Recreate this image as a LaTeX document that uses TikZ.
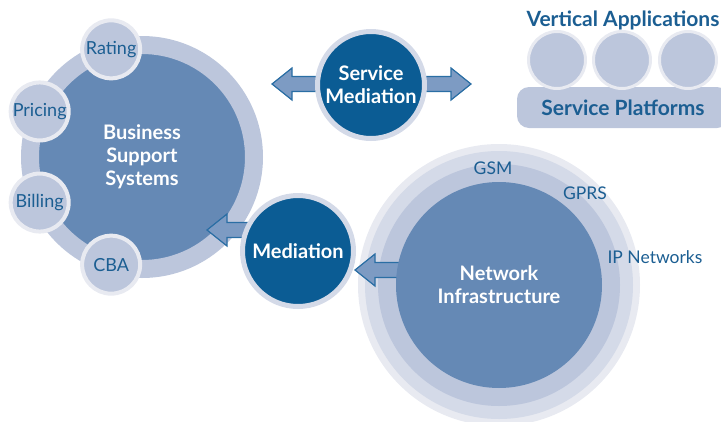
\documentclass[tikz,border=0pt]{standalone}
\usepackage{fontspec}
\setmainfont{Lato}
\usetikzlibrary{calc}

\definecolor{deepblue}{HTML}{0B5C94}
\definecolor{textblue}{HTML}{1B5E92}
\definecolor{midblue}{HTML}{6589B5}
\definecolor{paleblue}{HTML}{BCC6DC}
\definecolor{mistblue}{HTML}{D4DAE8}
\definecolor{frost}{HTML}{E8EAF1}
\definecolor{arrowfill}{HTML}{7D9BC3}
\definecolor{arrowline}{HTML}{2A6EA4}

\pgfdeclarelayer{back}
\pgfdeclarelayer{mid}
\pgfsetlayers{back,mid,main}

% fat horizontal arrow: start, tip, signed head length
\newcommand\fatarrow[3]{%
  \draw[blockarrow] let \p1=(#1), \p2=(#2) in
    (\x1,\y2+7.5) -- ({\x2+(#3)},\y2+7.5) -- ({\x2+(#3)},\y2+16)
    -- (\x2,\y2) -- ({\x2+(#3)},\y2-16) -- ({\x2+(#3)},\y2-7.5)
    -- (\x1,\y2-7.5) -- cycle;}

\begin{document}
\begin{tikzpicture}[x=1pt,y=-1pt,
    bigcircle/.style={circle, fill=midblue, draw=paleblue, line width=18pt,
      minimum size=224pt, inner sep=0pt, outer sep=0pt, text=white, align=center,
      font=\bfseries\fontsize{20}{23}\selectfont},
    hub/.style={circle, fill=deepblue, draw=mistblue, line width=5pt,
      minimum size=107pt, inner sep=0pt, text=white, align=center,
      font=\bfseries\fontsize{20}{23}\selectfont},
    satellite/.style={circle, fill=paleblue, draw=frost, line width=4pt,
      minimum size=58pt, inner sep=0pt, text=textblue,
      font=\fontsize{18}{20}\selectfont},
    ring/.style={circle, inner sep=0pt, outer sep=0pt},
    blockarrow/.style={fill=arrowfill, draw=arrowline, line width=1.2pt},
    tag/.style={text=textblue, font=\fontsize{17.5}{20}\selectfont},
    heading/.style={text=textblue, font=\bfseries\fontsize{21}{24}\selectfont}]
    \useasboundingbox (0,0) rectangle (721,421);

    % Business support side
    \begin{pgfonlayer}{back}
        \node (bss) [bigcircle] at (142,157) {Business\\Support\\Systems};
        \node (rating) [satellite] at (bss.106) {Rating};
        \node (pricing) [satellite] at (bss.156) {Pricing};
        \node (billing) [satellite] at (bss.204) {Billing};
        \node (cba) [satellite] at (bss.254) {CBA};

        % Network rings
        \node (netouter) [ring, fill=frost, minimum size=282pt] at (499,285) {};
        \node (netmid) [ring, fill=mistblue, minimum size=268pt] at (499,285) {};
        \node (netring) [ring, fill=paleblue, minimum size=242pt] at (499,285) {};
    \end{pgfonlayer}
    \node (net) [ring, fill=midblue, minimum size=206pt, text=white, align=center,
        font=\bfseries\fontsize{20}{23}\selectfont] at (499,285) {Network\\Infrastructure};
    \node (gsm) [tag] at (493,168) {GSM};
    \node (gprs) [tag] at (585,193) {GPRS};
    \node (ipnet) [tag] at (655,257) {IP Networks};

    % Mediation hubs
    \node (med) [hub, minimum size=111pt] at (298,251) {Mediation};
    \node (smed) [hub] at (371,85) {Service\\Mediation};

    % Vertical applications
    \node (platform) [rounded corners=12pt, fill=paleblue, minimum width=212pt,
        minimum height=41pt, text=textblue, font=\bfseries\fontsize{21}{24}\selectfont]
        at (623,107.5) {Service Platforms};
    \foreach \x [count=\i] in {557,622,688}
        \node (app\i) [satellite, minimum size=57pt, line width=3pt] at (\x,60) {};
    \node (vertical) [heading] at (623,20) {Vertical Applications};

    % Edges
    \coordinate (bsstip) at (207,230);
    \coordinate (medtip) at (355,270);
    \coordinate (smedleft) at (272,84);
    \coordinate (smedright) at (471,84);
    \begin{pgfonlayer}{mid}
        \fatarrow{med}{bsstip}{20}
        \fatarrow{net}{medtip}{20}
        \fatarrow{smed}{smedleft}{20}
        \fatarrow{smed}{smedright}{-20}
    \end{pgfonlayer}

\end{tikzpicture}
\end{document}
